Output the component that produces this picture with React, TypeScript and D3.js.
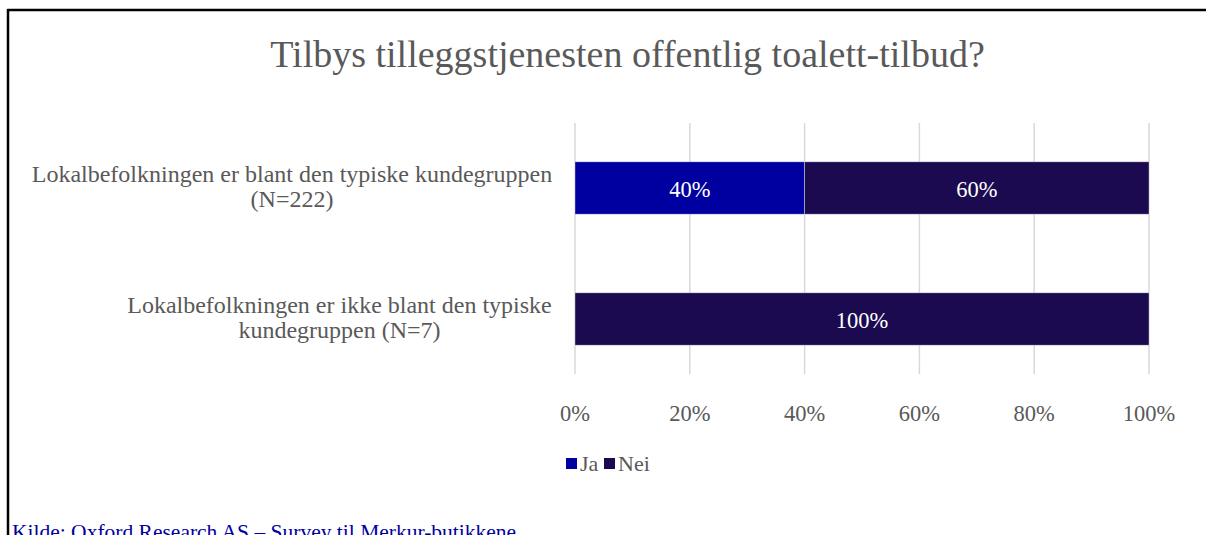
import React from "react";
import * as d3 from "d3";

const title = "Tilbys tilleggstjenesten offentlig toalett-tilbud?";
const categories = [
  ["Lokalbefolkningen er blant den typiske kundegruppen", "(N=222)"],
  ["Lokalbefolkningen er ikke blant den typiske", "kundegruppen (N=7)"],
];
const seriesNames = ["Ja", "Nei"];
const jaValues = [0.4, 0.0];
const neiValues = [0.6, 1.0];
const xTicks = [0, 0.2, 0.4, 0.6, 0.8, 1.0];
const source = "Kilde: Oxford Research AS – Survey til Merkur-butikkene";

const colors = ["#0000A0", "#1B0A4F"];
const W = 1206;
const H = 535;
const font = "'Liberation Serif', 'Times New Roman', serif";
const gray = "#595959";

export default function App() {
  const x = d3.scaleLinear().domain([0, 1]).range([575, 1149]);
  const y = d3
    .scaleBand<number>()
    .domain([0, 1])
    .range([122.5, 384.5])
    .paddingInner(0.6)
    .paddingOuter(0.3);
  const rows = categories.map((c, i) => ({ i, c, vals: [jaValues[i], neiValues[i]] }));
  const stack = d3.stack<any>().keys(["0", "1"]).value((d, k) => d.vals[+k]);
  const stacked = stack(rows);
  const fmt = d3.format(".0%");
  const labelCenters = [292, 339.5];
  const legendX = [566, 604];

  return (
    <svg
      width={W}
      height={H}
      style={{ position: "absolute", left: 0, top: 0, background: "#fff" }}
    >
      <line x1={7.5} x2={W} y1={10} y2={10} stroke="#000" strokeWidth={2.5} />
      <line x1={8} x2={8} y1={9} y2={H} stroke="#000" strokeWidth={2.5} />
      <text
        x={627.5}
        y={67}
        textAnchor="middle"
        fontFamily={font}
        fontSize={38}
        fill={gray}
      >
        {title}
      </text>
      {xTicks.map((t) => (
        <g key={t}>
          <line x1={x(t)} x2={x(t)} y1={123} y2={374} stroke="#D9D9D9" strokeWidth={1.5} />
          <text
            x={x(t)}
            y={421}
            textAnchor="middle"
            fontFamily={font}
            fontSize={22.5}
            fill={gray}
          >
            {fmt(t)}
          </text>
        </g>
      ))}
      {stacked.map((s, si) =>
        s.map((d, di) => {
          const w = x(d[1]) - x(d[0]);
          if (w <= 0) return null;
          const yy = y(di)!;
          return (
            <g key={`${si}-${di}`}>
              <rect
                x={x(d[0])}
                y={yy}
                width={w}
                height={y.bandwidth()}
                fill={colors[si]}
                stroke="#ffffff"
                strokeOpacity={0.5}
                strokeWidth={0.75}
              />
              <text
                x={(x(d[0]) + x(d[1])) / 2}
                y={yy + y.bandwidth() / 2 + 9}
                textAnchor="middle"
                fontFamily={font}
                fontSize={22.5}
                fill="#ffffff"
              >
                {fmt(d[1] - d[0])}
              </text>
            </g>
          );
        })
      )}
      {categories.map((c, i) => {
        const cy = y(i)! + y.bandwidth() / 2;
        const cx = labelCenters[i];
        return (
          <text
            key={i}
            textAnchor="middle"
            fontFamily={font}
            fontSize={24}
            fill={gray}
          >
            <tspan x={cx} y={cy - 6}>
              {c[0]}
            </tspan>
            <tspan x={cx} y={cy + 19}>
              {c[1]}
            </tspan>
          </text>
        );
      })}
      {seriesNames.map((n, i) => {
        const lx = legendX[i];
        return (
          <g key={n}>
            <rect x={lx} y={458} width={11} height={11} fill={colors[i]} />
            <text x={lx + 14} y={471} fontFamily={font} fontSize={22} fill={gray}>
              {n}
            </text>
          </g>
        );
      })}
      <text x={12} y={539} fontFamily={font} fontSize={21.5} fill="#0000A0">
        {source}
      </text>
    </svg>
  );
}
